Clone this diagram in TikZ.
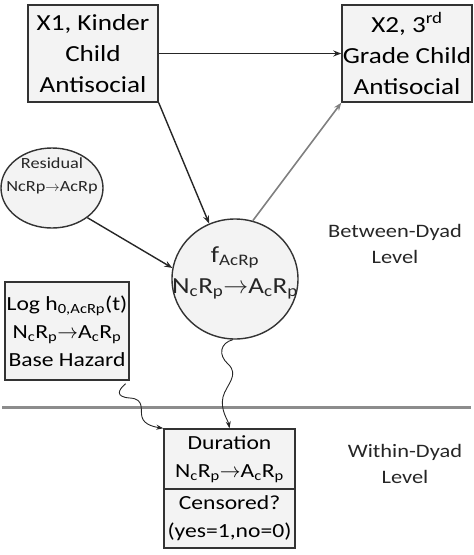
\documentclass[tikz,border=0pt]{standalone}
\usepackage{fontspec}
\setmainfont{Carlito}[FakeStretch=1.18]
\usetikzlibrary{arrows.meta,shapes.geometric}
\definecolor{boxfill}{HTML}{F3F3F3}
\definecolor{edge}{HTML}{333333}
\tikzset{
  box/.style={draw=edge, line width=1.4pt, fill=boxfill, align=center, inner sep=0pt},
  oval/.style={ellipse, draw=edge, line width=1.4pt, fill=boxfill, inner sep=0pt},
  lbl/.style={align=center, inner sep=0pt, text=black!85},
  conn/.style={draw=black!85, line width=1.4pt, -{Stealth[length=8pt,width=6pt]}},
  gconn/.style={draw=black!50, line width=1.6pt, -{Stealth[length=8pt,width=6pt]}},
  wavy/.style={draw=black!85, line width=0.9pt, -{Stealth[length=7pt,width=5pt]}},
}
\begin{document}
\begin{tikzpicture}[x=1pt,y=-1pt]
\useasboundingbox (0,0) rectangle (474,555);
% level separator
\coordinate (sepL) at (2,407);
\coordinate (sepR) at (471,407);
\draw[draw=black!45, line width=3pt] (sepL) -- (sepR);

\node[box, minimum width=130pt, minimum height=97pt, font=\fontsize{23}{31}\selectfont] (x1) at (93,53.5)
  {X1, Kinder\\Child\\Antisocial};
\node[box, minimum width=130pt, minimum height=97pt, font=\fontsize{23}{31}\selectfont] (x2) at (407,53.5)
  {X2, 3\textsuperscript{rd}\\Grade Child\\Antisocial};
\node[oval, minimum width=102pt, minimum height=80pt] (res) at (52,188) {};
\node[lbl, font=\fontsize{15.5}{23}\selectfont] (restext) at (52,176)
  {Residual\\NcRp$\rightarrow$AcRp};
\node[oval, minimum width=126pt, minimum height=120pt] (f) at (235,279) {};
\node[lbl, font=\fontsize{23}{31}\selectfont] (ftext) at (235,273)
  {f\textsubscript{AcRp}\\N\textsubscript{c}R\textsubscript{p}$\rightarrow$A\textsubscript{c}R\textsubscript{p}};
\node[box, minimum width=124pt, minimum height=98pt, font=\fontsize{20}{28}\selectfont] (base) at (67,331)
  {Log h\textsubscript{0,AcRp}(t)\\N\textsubscript{c}R\textsubscript{p}$\rightarrow$A\textsubscript{c}R\textsubscript{p}\\Base Hazard};
\node[box, minimum width=131pt, minimum height=60pt, font=\fontsize{20}{28}\selectfont] (durtop) at (229.5,459)
  {Duration\\N\textsubscript{c}R\textsubscript{p}$\rightarrow$A\textsubscript{c}R\textsubscript{p}};
\node[box, minimum width=131pt, minimum height=59pt, font=\fontsize{20}{28}\selectfont] (durbot) at (229.5,518.5)
  {Censored?\\(yes=1,no=0)};

\node[lbl, font=\fontsize{19}{26}\selectfont] (between) at (395,244) {Between-Dyad\\Level};
\node[lbl, font=\fontsize{19}{26}\selectfont] (within) at (405,464) {Within-Dyad\\Level};

% connectors
\draw[conn] (x1.east) -- (x2.west);
\draw[conn] (x1.south east) -- (f.115);
\draw[conn] (res.-40) -- (f.170);
\draw[gconn] (f.73) -- (x2.south west);
\draw[wavy] ([xshift=-4pt,yshift=-3pt]base.south east)
  .. controls (118,390) and (115,397) .. (130,398)
  .. controls (145,399) and (140,410) .. (142,417)
  .. controls (144,425) and (155,427) .. (durtop.north west);
\draw[wavy] (f.268)
  .. controls (220,343) and (218,355) .. (228,364)
  .. controls (240,375) and (226,385) .. (223,397)
  .. controls (220,410) and (228,420) .. (durtop.north);
\end{tikzpicture}
\end{document}
